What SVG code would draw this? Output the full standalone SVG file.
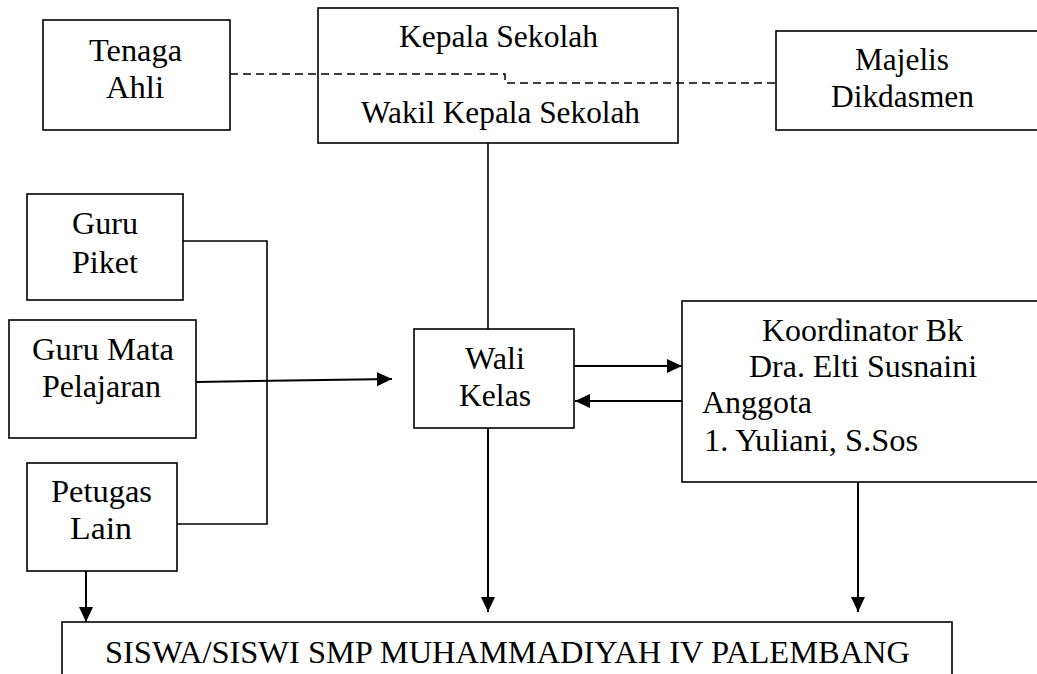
<svg xmlns="http://www.w3.org/2000/svg" width="1037" height="674" viewBox="0 0 1037 674">
<style>
.box{fill:#fff;stroke:#000;stroke-width:1.6}
text{font-family:"Liberation Serif","Times New Roman",serif;font-size:32px;fill:#000}
.ln{fill:none;stroke:#000;stroke-width:1.6}
.ar{fill:none;stroke:#000;stroke-width:2;marker-end:url(#ah)}
.dash{fill:none;stroke:#000;stroke-width:1.5;stroke-dasharray:8 5}
</style>
<defs>
<marker id="ah" markerUnits="userSpaceOnUse" markerWidth="16" markerHeight="15" refX="15" refY="7" orient="auto">
<path d="M0,0 L15,7 L0,14 z" fill="#000"/>
</marker>
</defs>
<rect width="1037" height="674" fill="#fff"/>
<g id="connectors">
<path class="dash" d="M230,74 H505 V83 H776"/>
<path class="ln" d="M488,143 V329"/>
<path class="ln" d="M183,241 H267 V524 H177"/>
<path class="ar" d="M196,382 L392,379"/>
<path class="ar" d="M574,366 H682"/>
<path class="ar" d="M682,401 H575"/>
<path class="ar" d="M488,428 V612"/>
<path class="ar" d="M858,482 V612"/>
<path class="ar" d="M86,571 V622"/>
</g>
<g id="tenaga-ahli">
<rect class="box" x="43" y="20" width="187" height="110"/>
<text x="89" y="61" textLength="93" lengthAdjust="spacingAndGlyphs">Tenaga</text>
<text x="106" y="98" textLength="58" lengthAdjust="spacingAndGlyphs">Ahli</text>
</g>
<g id="kepala-sekolah">
<rect class="box" x="318" y="8" width="360" height="135" style="fill:none"/>
<text x="399" y="47" textLength="199" lengthAdjust="spacingAndGlyphs">Kepala Sekolah</text>
<text x="361" y="123" textLength="279" lengthAdjust="spacingAndGlyphs">Wakil Kepala Sekolah</text>
</g>
<g id="majelis-dikdasmen">
<rect class="box" x="776" y="31" width="270" height="99"/>
<text x="855" y="70" textLength="94" lengthAdjust="spacingAndGlyphs">Majelis</text>
<text x="831" y="107" textLength="143" lengthAdjust="spacingAndGlyphs">Dikdasmen</text>
</g>
<g id="guru-piket">
<rect class="box" x="27" y="194" width="156" height="106"/>
<text x="72" y="234" textLength="66" lengthAdjust="spacingAndGlyphs">Guru</text>
<text x="72" y="273" textLength="66" lengthAdjust="spacingAndGlyphs">Piket</text>
</g>
<g id="guru-mata-pelajaran">
<rect class="box" x="9" y="320" width="187" height="118"/>
<text x="32" y="360" textLength="142" lengthAdjust="spacingAndGlyphs">Guru Mata</text>
<text x="42" y="397" textLength="119" lengthAdjust="spacingAndGlyphs">Pelajaran</text>
</g>
<g id="petugas-lain">
<rect class="box" x="27" y="463" width="150" height="108"/>
<text x="51" y="502" textLength="101" lengthAdjust="spacingAndGlyphs">Petugas</text>
<text x="70" y="539" textLength="62" lengthAdjust="spacingAndGlyphs">Lain</text>
</g>
<g id="wali-kelas">
<rect class="box" x="414" y="329" width="160" height="99"/>
<text x="465" y="369" textLength="60" lengthAdjust="spacingAndGlyphs">Wali</text>
<text x="459" y="406" textLength="72" lengthAdjust="spacingAndGlyphs">Kelas</text>
</g>
<g id="koordinator-bk">
<rect class="box" x="682" y="301" width="364" height="181"/>
<text x="762" y="341" textLength="201" lengthAdjust="spacingAndGlyphs">Koordinator Bk</text>
<text x="749" y="377" textLength="228" lengthAdjust="spacingAndGlyphs">Dra. Elti Susnaini</text>
<text x="702" y="413" textLength="110" lengthAdjust="spacingAndGlyphs">Anggota</text>
<text x="704" y="451" textLength="214" lengthAdjust="spacingAndGlyphs">1. Yuliani, S.Sos</text>
</g>
<g id="siswa">
<rect class="box" x="62" y="622" width="890" height="60"/>
<text x="105" y="663" textLength="805" lengthAdjust="spacingAndGlyphs">SISWA/SISWI SMP MUHAMMADIYAH IV PALEMBANG</text>
</g>
</svg>
